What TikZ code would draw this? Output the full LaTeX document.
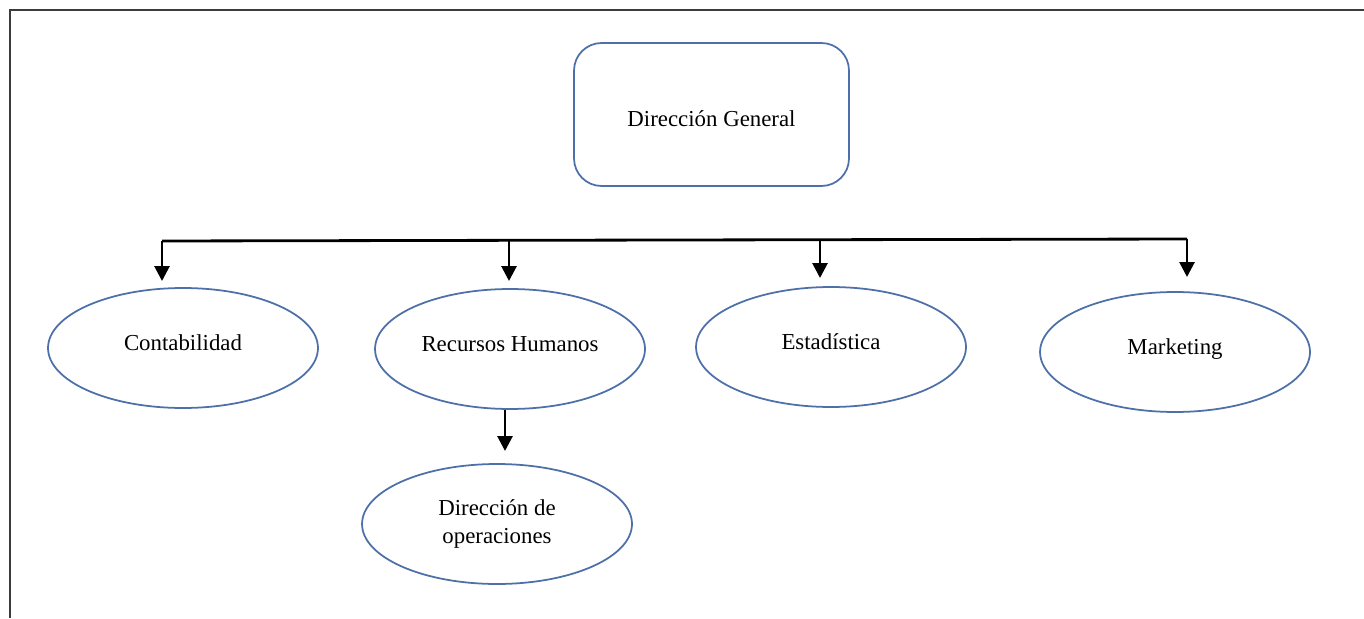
\documentclass[tikz,border=0pt]{standalone}
\usepackage{fontspec}
\setmainfont{Liberation Serif}
\usepackage{tikz}
\usetikzlibrary{arrows.meta,shapes.geometric}
\definecolor{orgblue}{HTML}{4E70A8}
\definecolor{orgframe}{HTML}{3C3C3C}
\newcommand{\upt}[1]{\raisebox{0.2cm}{#1}}

\begin{document}
\begin{tikzpicture}[x=0.02cm,y=-0.02cm,>=Triangle,line cap=butt,
  font=\fontsize{13}{15.5}\selectfont,
  unit/.style={ellipse,draw=orgblue,line width=1pt,minimum width=5.4cm,
    minimum height=2.4cm,inner sep=0pt,align=center},
  head/.style={rectangle,rounded corners=0.55cm,draw=orgblue,line width=1pt,
    minimum width=5.5cm,minimum height=2.86cm,text height=0.57cm,text depth=0.09cm},
  bus/.style={line width=1.6pt,black},
  arr/.style={bus,-{Triangle[length=8.5pt,width=8.5pt]}}]
\path[use as bounding box] (0,0) rectangle (1364,618);
\fill[white] (0,0) rectangle (1364,618);
% marco
\draw[orgframe,line width=1.2pt] (10,618)--(10,10)--(1364,10);

% nodos
\node[head] (dg) at (711.5,114.5) {Dirección General};
\node[unit] (cont) at (183,348) {\upt{Contabilidad}};
\node[unit] (rh) at (510,349) {\upt{Recursos Humanos}};
\node[unit] (est) at (831,347) {\upt{Estadística}};
\node[unit] (mkt) at (1175,352) {\upt{Marketing}};
\node[unit] (dop) at (497,524) {Dirección de\\operaciones};

% barra de reparto
\coordinate (b1) at (162,241);
\coordinate (b2) at (509,240.5);
\coordinate (b3) at (820,240);
\coordinate (b4) at (1187,239);
\coordinate (t1) at (162,281);
\coordinate (t2) at (509,281);
\coordinate (t3) at (820,278);
\coordinate (t4) at (1187,277);
\draw[bus] (b1)--(b4);
\draw[arr] (b1)--(t1);
\draw[arr] (b2)--(t2);
\draw[arr] (b3)--(t3);
\draw[arr] (b4)--(t4);

% Recursos Humanos -> Dirección de operaciones
\coordinate (t5) at (505,451);
\draw[arr] (rh.south -| t5)--(t5);
\end{tikzpicture}
\end{document}
